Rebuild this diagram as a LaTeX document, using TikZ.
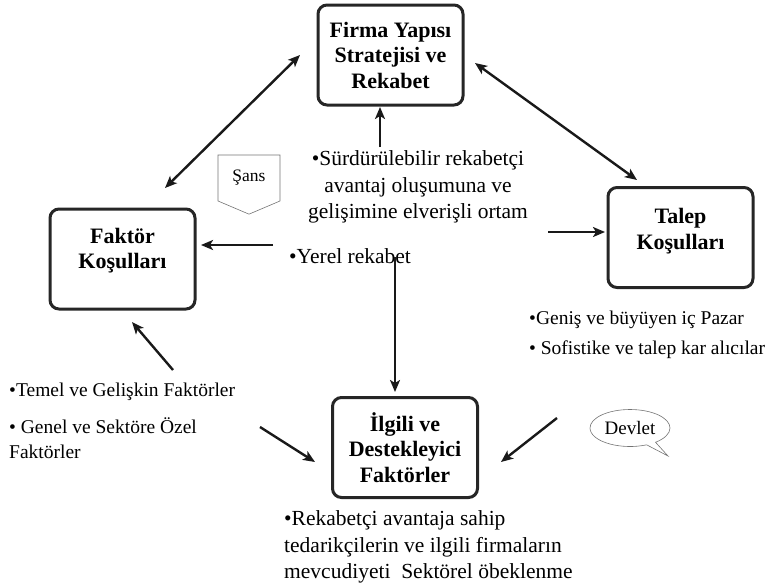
\documentclass[tikz,border=0pt]{standalone}
\usepackage{fontspec}
\setmainfont{Liberation Serif}
\usetikzlibrary{arrows.meta, positioning, shapes.symbols, shapes.callouts}

\begin{document}
\begin{tikzpicture}[
        x=1pt, y=-1pt,
        >={Stealth[length=12pt, width=10pt, inset=3pt]},
        box/.style={rectangle, rounded corners=9pt, draw=black!85, line width=3pt, minimum width=145pt, minimum height=100pt, align=center, font=\fontsize{22}{25.5}\selectfont\bfseries},
        note/.style={inner sep=0pt, align=left, font=\fontsize{21.5}{26.5}\selectfont},
        small/.style={inner sep=0pt, align=left, font=\fontsize{19.5}{25}\selectfont},
        arrow/.style={->, line width=2.4pt, black!90},
        biarrow/.style={<->, line width=2.4pt, black!90}
    ]
        \useasboundingbox (0,0) rectangle (776,587);

        % Diamond boxes
        \node[box] (firma) at (390.5,55) {Firma Yapısı\\Stratejisi ve\\Rekabet};
        \node[box, text depth=21pt] (faktor) at (122.5,259) {Faktör\\Koşulları};
        \node[box, text depth=17pt] (talep) at (680.5,237.5) {Talep\\Koşulları};
        \node[box] (ilgili) at (405,447.5) {İlgili ve\\Destekleyici\\Faktörler};

        % Notes
        \node[note, align=center] (ortam) at (418,187) {•Sürdürülebilir rekabetçi\\avantaj oluşumuna ve\\gelişimine elverişli ortam};
        \node[note, anchor=west] (yerel) at (289,256) {•Yerel rekabet};
        \node[small, anchor=west, font=\fontsize{19.5}{30}\selectfont] (pazar) at (529,335) {•Geniş ve büyüyen iç Pazar\\• Sofistike ve talep kar alıcılar};
        \node[small, anchor=west] (temel) at (9,421) {•Temel ve Gelişkin Faktörler\\[12pt]• Genel ve Sektöre Özel\\Faktörler};
        \node[note, anchor=west] (tedarik) at (284,547) {•Rekabetçi avantaja sahip\\tedarikçilerin ve ilgili firmaların\\mevcudiyeti\ \ Sektörel öbeklenme};

        % Chance and government
        \node[signal, signal to=south, signal from=nowhere, signal pointer angle=134, draw=black!55, line width=0.6pt, minimum width=62pt, minimum height=53pt, inner sep=0pt, font=\fontsize{17.5}{20}\selectfont] (sans) at (249,178) {Şans};
        \node[ellipse callout, callout absolute pointer={(668,456)}, draw=black!55, line width=0.6pt, minimum width=80pt, minimum height=37pt, inner sep=0pt, font=\fontsize{19}{22}\selectfont] (devlet) at (630,428) {Devlet};

        % Arrow ends
        \coordinate (faktorNE) at (165,188);
        \coordinate (firmaW) at (300,55);
        \coordinate (firmaE) at (475,63);
        \coordinate (talepNW) at (637,180);
        \coordinate (ortamN) at (380,147);
        \coordinate (firmaS) at (380,107);
        \coordinate (yerelW) at (273,245);
        \coordinate (faktorE) at (201,245);
        \coordinate (ortamE) at (548,232);
        \coordinate (talepW) at (605,232);
        \coordinate (yerelS) at (395,257);
        \coordinate (ilgiliN) at (395,392);
        \coordinate (temelN) at (173,370);
        \coordinate (faktorS) at (132,322);
        \coordinate (temelE) at (260,427);
        \coordinate (ilgiliW) at (315,462);
        \coordinate (devletW) at (557,418);
        \coordinate (ilgiliE) at (501,462);

        \draw[biarrow] (faktorNE) -- (firmaW);
        \draw[biarrow] (firmaE) -- (talepNW);
        \draw[arrow] (ortamN) -- (firmaS);
        \draw[arrow] (yerelW) -- (faktorE);
        \draw[arrow] (ortamE) -- (talepW);
        \draw[arrow] (yerelS) -- (ilgiliN);
        \draw[arrow] (temelN) -- (faktorS);
        \draw[arrow] (temelE) -- (ilgiliW);
        \draw[arrow] (devletW) -- (ilgiliE);
    \end{tikzpicture}
\end{document}
